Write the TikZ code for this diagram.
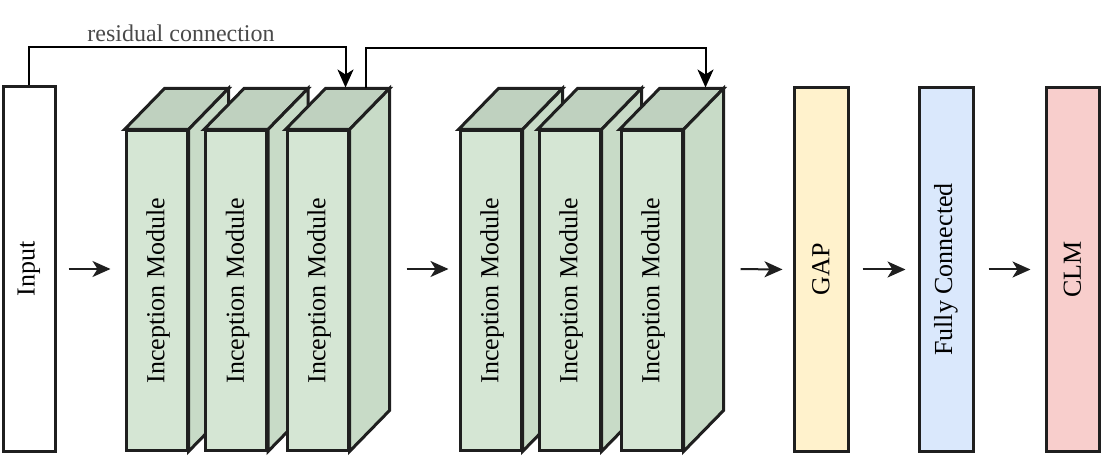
\documentclass[tikz,border=0pt]{standalone}
\usepackage{fontspec}
\setmainfont{Liberation Serif}
\usetikzlibrary{arrows.meta}

\definecolor{edge}{HTML}{1F1F1F}
\definecolor{modfront}{HTML}{D5E6D4}
\definecolor{modtop}{HTML}{BFD1BF}
\definecolor{modside}{HTML}{C8DBC7}
\definecolor{gapfill}{HTML}{FFF2CC}
\definecolor{fcfill}{HTML}{DAE8FC}
\definecolor{clmfill}{HTML}{F8CECC}
\definecolor{restext}{HTML}{4A4A4A}

\tikzset{
  layer/.style={draw=edge,line width=3pt,inner sep=0pt,minimum width=53pt,minimum height=363pt,
    font=\fontsize{26}{30}\selectfont},
  module/.style={layer,fill=modfront,minimum width=61pt,minimum height=319pt},
  face/.style={draw=edge,line width=3pt},
  flow/.style={line width=2pt,draw=edge,-{Stealth[length=18pt,width=16pt,inset=5pt]}},
  res/.style={line width=2pt,draw=black,-{Stealth[length=18pt,width=16pt,inset=5pt]}}
}

\begin{document}
\begin{tikzpicture}[x=1pt,y=1pt]
\useasboundingbox (0,0) rectangle (1106,-462);
\node[layer,fill=white,minimum width=52pt,minimum height=364pt] (in) at (29,-269) {\rotatebox{90}{Input}};
\foreach \n/\x in {m1/156.5,m2/236,m3/317.5,m4/490.5,m5/569.5,m6/651.5} {
  \node[module] (\n) at (\x,-290.5) {\hspace*{3pt}\rotatebox{90}{Inception Module}};
  \coordinate (\n-tl) at ([shift={(40,41)}]\n.north west);
  \coordinate (\n-tr) at ([shift={(40,41)}]\n.north east);
  \coordinate (\n-br) at ([shift={(40,41)}]\n.south east);
  \draw[face,fill=modtop] (\n.north west) -- (\n-tl) -- (\n-tr) -- (\n.north east) -- cycle;
  \draw[face,fill=modside] (\n.north east) -- (\n-tr) -- (\n-br) -- (\n.south east) -- cycle;
}
\node[layer,fill=gapfill,minimum width=54pt] (gap) at (821,-269.5) {\rotatebox{90}{GAP}};
\node[layer,fill=fcfill,minimum width=54pt] (fc) at (946,-269.5) {\rotatebox{90}{Fully Connected}};
\node[layer,fill=clmfill] (clm) at (1072.5,-269.5) {\rotatebox{90}{CLM}};
\draw[flow,shorten <=12pt,shorten >=14pt] (in.east) -- (in.east -| m1.west);
\draw[flow,shorten <=17pt,shorten >=10pt] (in.east -| m3-tr) -- (in.east -| m4.west);
\draw[flow,shorten <=17pt,shorten >=10pt] (in.east -| m6-tr) -- (gap.west);
\draw[flow,shorten <=13pt,shorten >=12pt] (gap.east) -- (fc.west);
\draw[flow,shorten <=14pt,shorten >=14pt] (fc.east) -- (clm.west);
\draw[res] (in.north) -- ++(0,38) -| ([xshift=20pt,yshift=1pt]m3-tl);
\draw[res] ([xshift=40pt]m3-tl) -- ++(0,40) -| ([xshift=46pt,yshift=1pt]m6-tl);
\node[text=restext,font=\fontsize{24}{28}\selectfont,inner sep=0pt] (reslbl) at (181,-33) {residual connection};
\end{tikzpicture}
\end{document}
